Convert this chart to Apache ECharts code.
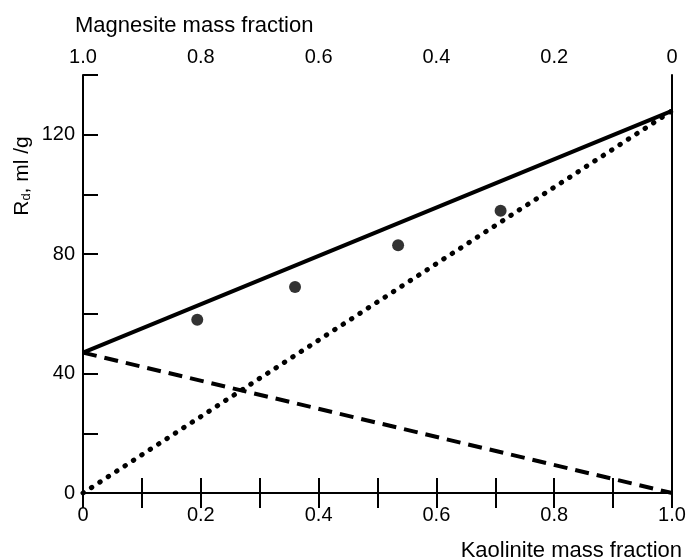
<!DOCTYPE html>
<html>
<head>
<meta charset="utf-8">
<title>Rd vs mass fraction</title>
<script src="https://cdn.jsdelivr.net/npm/echarts@6/dist/echarts.min.js"></script>
<style>
  html, body { margin: 0; padding: 0; background: #fff; }
  #chart { width: 689px; height: 560px; }
</style>
</head>
<body>
<div id="chart"></div>
<script>
// kaolinite mass fraction at the two ends of the model lines
const lineX = [0, 1];
const mixture = [47, 128];       // solid line
const magnesitePart = [47, 0];   // dashed line
const kaolinitePart = [0, 128];  // dotted line

// measured points
const pointX = [0.194, 0.36, 0.535, 0.709];
const pointY = [58, 69, 83, 94.5];

const yLabels = [0, 40, 80, 120];

const font = 'Liberation Sans';
const ink = '#000';

function pairs(xs, ys) {
    const out = [];
    for (const i in xs) {
        out.push([xs[i], ys[i]]);
    }
    return out;
}

function fracLabel(v) {
    const t = Math.round(v * 10);
    if (t % 2 !== 0) return '';
    if (t === 0) return '0';
    if (t === 10) return '1.0';
    return (t / 10).toFixed(1);
}

const dom = document.getElementById('chart');
const myChart = echarts.init(dom);

const axisText = { color: ink, fontFamily: font, fontSize: 20 };

const option = {
    animation: false,
    backgroundColor: '#fff',
    title: [{
        text: 'Magnesite mass fraction',
        left: 70, top: 10,
        textStyle: { color: ink, fontFamily: font, fontSize: 22, fontWeight: 'normal' }
    }, {
        text: 'Kaolinite mass fraction',
        right: 2, top: 535,
        textStyle: { color: ink, fontFamily: font, fontSize: 22, fontWeight: 'normal' }
    }],
    grid: { left: 83, right: 17, top: 75, bottom: 67 },
    xAxis: [{
        type: 'value', position: 'bottom',
        min: 0, max: 1, interval: 0.1,
        axisLine: { lineStyle: { color: ink, width: 2 } },
        axisTick: { inside: true, length: 15, lineStyle: { color: ink, width: 2 } },
        axisLabel: Object.assign({ margin: 12, formatter: fracLabel }, axisText),
        splitLine: { show: false }
    }, {
        type: 'value', position: 'top', inverse: true,
        min: 0, max: 1, interval: 0.1,
        axisLine: { lineStyle: { color: ink, width: 2 } },
        axisTick: { inside: true, length: 15, lineStyle: { color: ink, width: 2 } },
        axisLabel: Object.assign({ margin: 8, formatter: fracLabel }, axisText),
        splitLine: { show: false }
    }],
    yAxis: [{
        type: 'value', position: 'left',
        min: 0, max: 140, interval: 20,
        axisLine: { show: true, lineStyle: { color: ink, width: 2 } },
        axisTick: { show: true, inside: true, length: 15, lineStyle: { color: ink, width: 2 } },
        axisLabel: Object.assign({
            margin: 8,
            formatter: function (v) { return yLabels.indexOf(v) >= 0 ? String(v) : ''; }
        }, axisText),
        splitLine: { show: false }
    }, {
        type: 'value', position: 'right',
        min: 0, max: 140, interval: 20,
        axisLine: { show: true, lineStyle: { color: ink, width: 2 } },
        axisTick: { show: false },
        axisLabel: { show: false },
        splitLine: { show: false }
    }],
    graphic: [{
        type: 'text',
        x: 22, y: 176,
        rotation: Math.PI / 2,
        style: {
            text: 'R{d|d}, ml /g',
            fill: ink,
            font: '21px "' + font + '"',
            align: 'center',
            verticalAlign: 'middle',
            rich: { d: { fontSize: 13, fontFamily: font, verticalAlign: 'bottom', padding: [8, 0, 0, 0] } }
        }
    }],
    series: [{
        name: 'mixture',
        type: 'line',
        data: pairs(lineX, mixture),
        showSymbol: false,
        lineStyle: { color: ink, width: 4 }
    }, {
        name: 'magnesite',
        type: 'line',
        data: pairs(lineX, magnesitePart),
        showSymbol: false,
        lineStyle: { color: ink, width: 4, type: [14, 8] }
    }, {
        name: 'kaolinite',
        type: 'line',
        data: pairs(lineX, kaolinitePart),
        showSymbol: false,
        lineStyle: { color: ink, width: 5, type: [0.5, 9.5], cap: 'round' }
    }, {
        name: 'measured',
        type: 'scatter',
        data: pairs(pointX, pointY),
        symbol: 'circle',
        symbolSize: 12,
        itemStyle: { color: ink }
    }]
};

if (option && typeof option === 'object') {
    myChart.setOption(option, true);
}
</script>
</body>
</html>
